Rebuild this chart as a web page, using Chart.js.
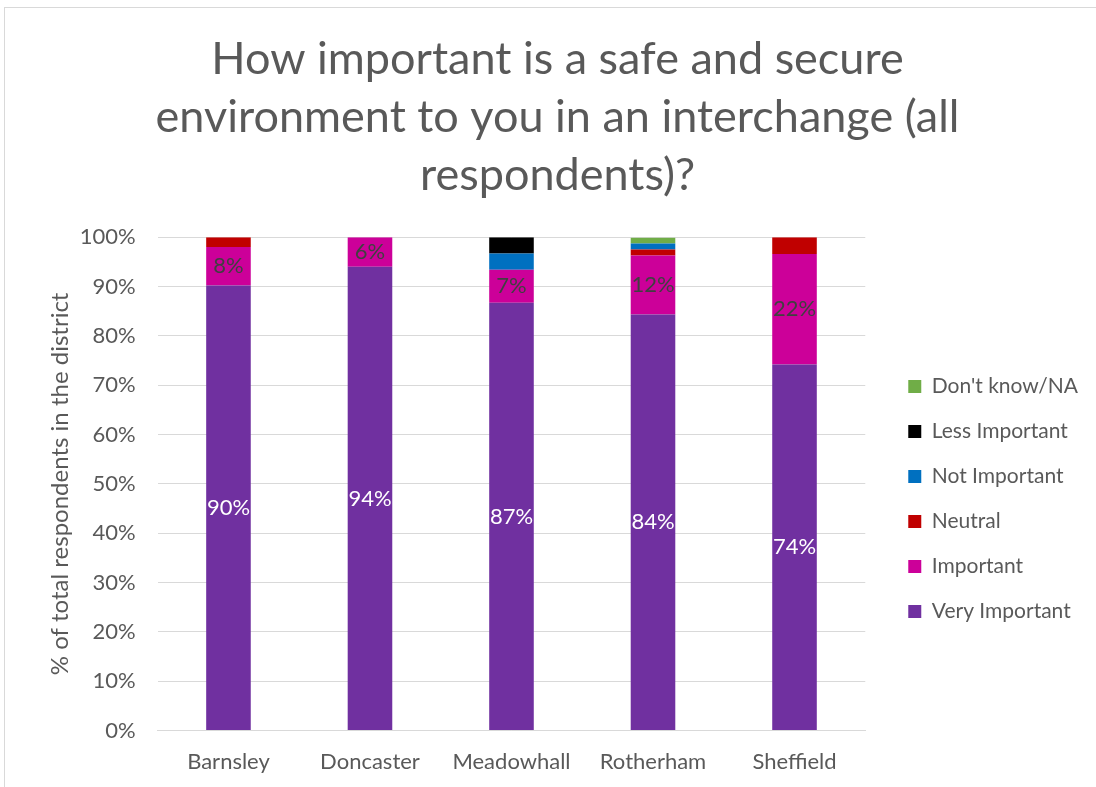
<!DOCTYPE html>
<html>
<head>
<meta charset="utf-8">
<script src="https://cdn.jsdelivr.net/npm/chart.js@4.4.1/dist/chart.umd.min.js"></script>
<style>
  html, body { margin: 0; padding: 0; background: #fff; }
  #wrap { position: relative; width: 1096px; height: 787px; overflow: hidden; }
  #frame { position: absolute; left: 4px; top: 7px; width: 1200px; height: 900px; border: 1px solid #d9d9d9; }
  canvas { position: absolute; left: 0; top: 0; }
</style>
</head>
<body>
<div id="wrap">
  <div id="frame"></div>
  <canvas id="chart" width="1096" height="787"></canvas>
</div>
<script>
const districts = ["Barnsley", "Doncaster", "Meadowhall", "Rotherham", "Sheffield"];

// share of respondents per answer, in %
const veryImportant = [90.2, 94.0, 86.7, 84.3, 74.2];
const important     = [7.8, 6.0, 6.7, 12.0, 22.4];
const neutral       = [2.0, 0, 0, 1.2, 3.4];
const notImportant  = [0, 0, 3.3, 1.2, 0];
const lessImportant = [0, 0, 3.3, 0, 0];
const dontKnow      = [0, 0, 0, 1.2, 0];

const yTicks = [0, 10, 20, 30, 40, 50, 60, 70, 80, 90, 100];

const textGrey = "#595959";
const fontFamily = "Lato, 'Open Sans', sans-serif";

// draws the rounded % inside the two biggest segments
const segmentLabels = {
  id: "segmentLabels",
  afterDatasetsDraw(chart) {
    const ctx = chart.ctx;
    ctx.save();
    ctx.font = "22px " + fontFamily;
    ctx.textAlign = "center";
    ctx.textBaseline = "middle";
    chart.data.datasets.forEach((ds, i) => {
      if (!ds.showLabel) return;
      const meta = chart.getDatasetMeta(i);
      meta.data.forEach((bar, j) => {
        const v = ds.data[j];
        if (!v) return;
        ctx.fillStyle = ds.labelColor;
        ctx.fillText(Math.round(v) + "%", bar.x, (bar.y + bar.base) / 2);
      });
    });
    ctx.restore();
  }
};

// push the legend a bit away from the plot and slightly lower
const legendNudge = {
  id: "legendNudge",
  afterLayout(chart) {
    const lg = chart.legend;
    if (!lg) return;
    lg.left += 19;
    lg.right += 19;
    lg.top += 15;
    lg.bottom += 15;
  }
};

const ctx = document.getElementById("chart").getContext("2d");

new Chart(ctx, {
  type: "bar",
  data: {
    labels: districts,
    datasets: [
      { label: "Very Important", data: veryImportant, backgroundColor: "#7030a0", showLabel: true, labelColor: "#ffffff" },
      { label: "Important", data: important, backgroundColor: "#cc0099", showLabel: true, labelColor: "#404040" },
      { label: "Neutral", data: neutral, backgroundColor: "#c00000" },
      { label: "Not Important", data: notImportant, backgroundColor: "#0070c0" },
      { label: "Less Important", data: lessImportant, backgroundColor: "#000000" },
      { label: "Don't know/NA", data: dontKnow, backgroundColor: "#70ad47" },
    ],
  },
  options: {
    responsive: false,
    animation: false,
    datasets: {
      bar: {
        barPercentage: 0.315,
        categoryPercentage: 1,
        borderWidth: 0,
      },
    },
    layout: {
      padding: { left: 46, right: 27, top: 0, bottom: 2 },
    },
    scales: {
      x: {
        stacked: true,
        grid: { display: false },
        border: { color: "#d9d9d9" },
        ticks: { color: textGrey, font: { family: fontFamily, size: 22 }, padding: 10 },
      },
      y: {
        stacked: true,
        min: 0,
        max: 100,
        afterBuildTicks: (axis) => {
          axis.ticks = yTicks.map((v) => ({ value: v }));
        },
        grid: { color: "#d9d9d9", drawTicks: false },
        border: { display: false },
        ticks: {
          color: textGrey,
          font: { family: fontFamily, size: 22 },
          padding: 22,
          callback: (v) => v + "%",
        },
        title: {
          display: true,
          text: "% of total respondents in the district",
          color: textGrey,
          font: { family: fontFamily, size: 24 },
          padding: { top: 0, bottom: -17 },
        },
      },
    },
    plugins: {
      title: {
        display: true,
        text: ["How important is a safe and secure", "environment to you in an interchange (all", "respondents)?"],
        color: textGrey,
        font: { family: fontFamily, size: 45, weight: "normal", lineHeight: 1.29 },
        padding: { top: 30, bottom: 33 },
      },
      legend: {
        position: "right",
        fullSize: false,
        reverse: true,
        labels: {
          color: textGrey,
          font: { family: fontFamily, size: 21 },
          boxWidth: 13,
          boxHeight: 13,
          padding: 24,
        },
      },
      tooltip: { enabled: false },
    },
  },
  plugins: [segmentLabels, legendNudge],
});
</script>
</body>
</html>
